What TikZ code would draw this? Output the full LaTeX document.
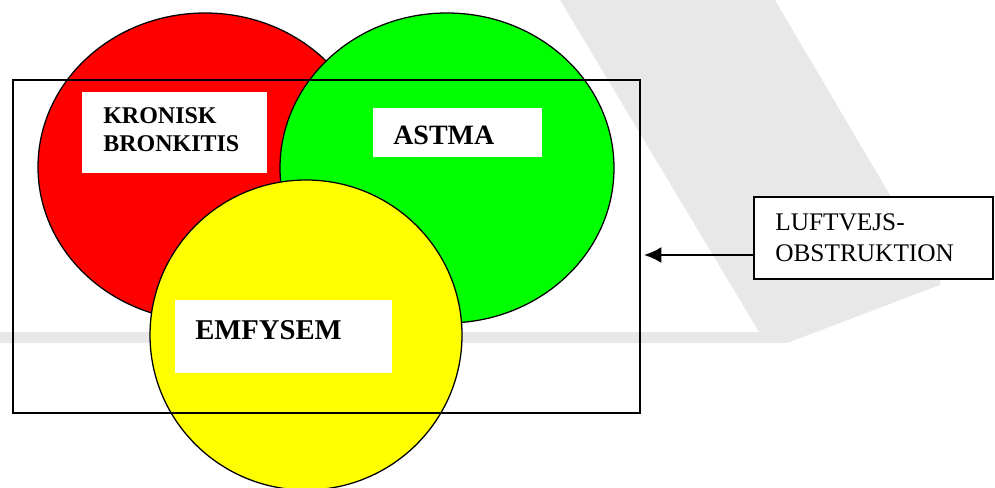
\documentclass[tikz,border=0pt]{standalone}
\usepackage{fontspec}
\setmainfont{Liberation Serif}
\usetikzlibrary{shapes.geometric,arrows.meta}
\definecolor{wmgrey}{HTML}{E8E8E8}
\definecolor{vennred}{HTML}{FF0000}
\definecolor{venngreen}{HTML}{00FF00}
\definecolor{vennyellow}{HTML}{FFFF00}
\tikzset{
  venn/.style={ellipse, draw=black, line width=0.95pt, inner sep=0pt, outer sep=0pt},
  labelbox/.style={fill=white, inner sep=0pt, outer sep=0pt, anchor=north west},
  boldtxt/.style={font=\bfseries, anchor=base west, inner sep=0pt, align=left},
  plaintxt/.style={anchor=base west, inner sep=0pt, align=left},
  framebox/.style={draw=black, line width=1.2pt, inner sep=0pt, anchor=north west},
  arrowline/.style={line width=1.7pt, -{Latex[length=13pt,width=12pt]}},
}
\begin{document}
\begin{tikzpicture}[x=0.75pt,y=-0.75pt]
\useasboundingbox (0,0) rectangle (995,488);
% faint watermark
\fill[wmgrey] (560,0) -- (775,0) -- (940,280) -- (940,285) -- (787,343)
  -- (0,343) -- (0,332) -- (759,332) -- cycle;
% ellipses
\node[venn, fill=vennred, minimum width=334*0.75pt, minimum height=308*0.75pt] (red) at (205,167) {};
\node[venn, fill=venngreen, minimum width=334*0.75pt, minimum height=310*0.75pt] (green) at (447,168) {};
\node[venn, fill=vennyellow, minimum width=312*0.75pt, minimum height=310*0.75pt] (yellow) at (306,335) {};
% frame
\node[framebox, minimum width=627*0.75pt, minimum height=333*0.75pt] (frame) at (12,79) {};
% label boxes
\node[labelbox, minimum width=185*0.75pt, minimum height=81*0.75pt] (kbox) at (82,92) {};
\node[labelbox, minimum width=169*0.75pt, minimum height=49*0.75pt] (abox) at (373,108) {};
\node[labelbox, minimum width=217*0.75pt, minimum height=73*0.75pt] (ebox) at (175,300) {};
% texts
\node[boldtxt, font=\bfseries\fontsize{18}{21}\selectfont] (ktxt) at (103,152) {KRONISK\\BRONKITIS};
\node[boldtxt, font=\bfseries\fontsize{21}{25}\selectfont] (atxt) at (393,145) {ASTMA};
\node[boldtxt, font=\bfseries\fontsize{21.5}{25}\selectfont] (etxt) at (195,339) {EMFYSEM};
% right box
\node[framebox, fill=white, minimum width=239*0.75pt, minimum height=82*0.75pt] (luft) at (753,196) {};
\node[plaintxt, font=\fontsize{19}{23.25}\selectfont] (ltxt) at (775,262) {LUFTVEJS-\\OBSTRUKTION};
% arrow
\coordinate (ay) at (0,255);
\draw[arrowline, shorten >=2.5pt] (luft.west |- ay) -- (frame.east |- ay);
\end{tikzpicture}
\end{document}
